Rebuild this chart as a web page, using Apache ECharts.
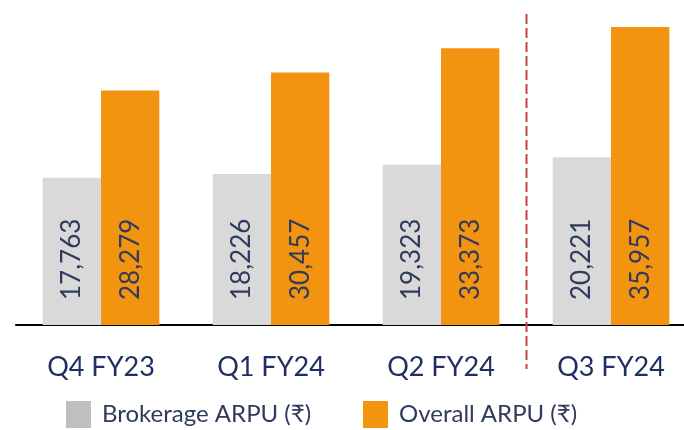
<!DOCTYPE html>
<html><head><meta charset="utf-8">
<script src="https://cdn.jsdelivr.net/npm/echarts@6/dist/echarts.min.js"></script>
<style>html,body{margin:0;padding:0;background:#fff}#c{width:684px;height:430px}</style>
</head><body><div id="c"></div>
<script>
const categories = ['Q4 FY23', 'Q1 FY24', 'Q2 FY24', 'Q3 FY24'];
const brokerageARPU = [17763, 18226, 19323, 20221];
const overallARPU = [28279, 30457, 33373, 35957];
const seriesNames = ['Brokerage ARPU (₹)', 'Overall ARPU (₹)'];

const FONT = 'Lato, "Noto Sans", sans-serif';
const TEXT = '#2f3a5c';
const chart = echarts.init(document.getElementById('c'), null, {renderer: 'canvas'});
const lbl = {
  show: true, position: 'insideBottom', rotate: 90, align: 'left', verticalAlign: 'middle',
  distance: 25, color: TEXT, fontFamily: FONT, fontSize: 26,
  formatter: p => p.value.toLocaleString('en-US')
};
chart.setOption({
  animation: false,
  grid: {left: 16, width: 680, top: 0, bottom: 105, containLabel: false, outerBoundsMode: 'none'},
  legend: {
    top: 401, left: 66, itemWidth: 25, itemHeight: 27, itemGap: 52,
    icon: 'rect', padding: 0,
    textStyle: {color: TEXT, fontFamily: FONT, fontSize: 24, padding: [0, 0, 0, 6]},
    data: [
      {name: seriesNames[0], itemStyle: {color: '#bfbfbf'}},
      {name: seriesNames[1], itemStyle: {color: '#f39410'}}
    ]
  },
  xAxis: {
    type: 'category', data: categories,
    axisLine: {lineStyle: {color: '#000', width: 2}},
    axisTick: {show: false},
    axisLabel: {color: '#1f2f62', fontFamily: FONT, fontSize: 27, margin: 29}
  },
  yAxis: {type: 'value', min: 0, max: 39200, show: false, splitLine: {show: false}},
  series: [
    {name: seriesNames[0], type: 'bar', data: brokerageARPU, barWidth: '34.3%', barGap: '0%',
     itemStyle: {color: '#d9d9d9'}, label: lbl},
    {name: seriesNames[1], type: 'bar', data: overallARPU, barWidth: '34.3%', barGap: '0%',
     itemStyle: {color: '#f39410'}, label: lbl}
  ]
});
const p2 = chart.convertToPixel({xAxisIndex: 0}, categories[2]);
const p3 = chart.convertToPixel({xAxisIndex: 0}, categories[3]);
const xd = Math.round((p2 + p3) / 2) + 0.5;
chart.setOption({
  graphic: [{
    type: 'line', shape: {x1: xd, y1: 14, x2: xd, y2: 369},
    style: {stroke: '#c9444a', lineWidth: 2, lineDash: [10, 4]}, z: 10
  }]
});
</script></body></html>
